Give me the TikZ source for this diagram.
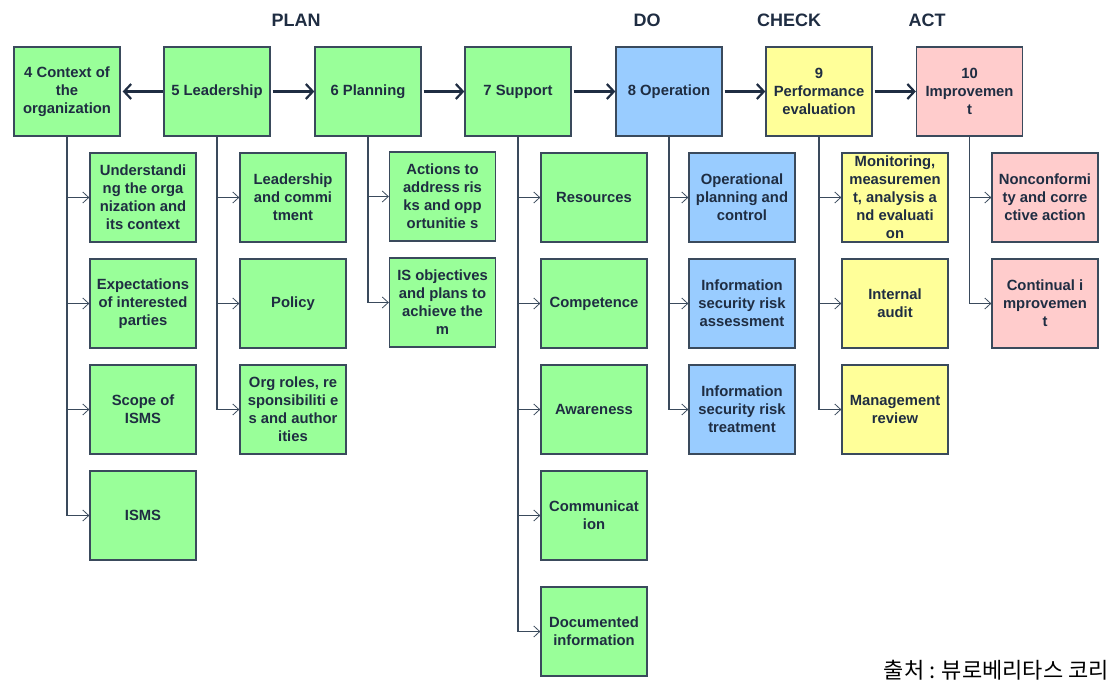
\documentclass[tikz,border=0pt]{standalone}
\usepackage{fontspec}
\setmainfont{Liberation Sans}
\newfontfamily\krfont{Noto Sans CJK KR}
\usepackage{tikz}
\usetikzlibrary{arrows.meta}

\definecolor{inkblue}{HTML}{1F2D42}
\definecolor{edgegray}{HTML}{3A4A5C}
\definecolor{planfill}{HTML}{99FF99}
\definecolor{dofill}{HTML}{99CCFF}
\definecolor{checkfill}{HTML}{FFFF99}
\definecolor{actfill}{HTML}{FFCCCC}

\begin{document}
\begin{tikzpicture}[x=1pt,y=-1pt,
  box/.style={draw=edgegray,line width=1.3pt,minimum width=106pt,minimum height=89pt,
    inner sep=0pt,align=center,text=inkblue,font=\bfseries\fontsize{14.8}{18}\selectfont},
  head/.style={text=inkblue,font=\bfseries\fontsize{18}{20}\selectfont},
  flow/.style={draw=inkblue,line width=2.2pt,-{Straight Barb[length=7pt,width=15pt,line width=2.2pt]}},
  branch/.style={draw=edgegray,line width=1.1pt,-{Straight Barb[length=6pt,width=11pt,line width=0.8pt]}}]

\useasboundingbox (0,0) rectangle (1111,685);

% phase headings
\node[head] (plan) at (296,20) {PLAN};
\node[head] (do) at (647,20) {DO};
\node[head] (check) at (789,20) {CHECK};
\node[head] (act) at (927,20) {ACT};

% main clauses
\node[box,fill=planfill] (ctx) at (67,91.5) {4 Context of\\the\\organization};
\node[box,fill=planfill] (lead) at (217,91.5) {5 Leadership};
\node[box,fill=planfill] (plng) at (368,91.5) {6 Planning};
\node[box,fill=planfill] (supp) at (518,91.5) {7 Support};
\node[box,fill=dofill] (oper) at (669,91.5) {8 Operation};
\node[box,fill=checkfill] (perf) at (819,91.5) {9\\Performance\\evaluation};
\node[box,fill=actfill] (impr) at (969.5,91.5) {10\\Improvemen\\t};

\draw[flow,{Straight Barb[length=7pt,width=15pt,line width=2.2pt]}-] ([xshift=2pt]ctx.east) -- (lead.west);
\draw[flow] ([xshift=2pt]lead.east) -- (plng.west);
\draw[flow] ([xshift=2pt]plng.east) -- (supp.west);
\draw[flow] ([xshift=2pt]supp.east) -- (oper.west);
\draw[flow] ([xshift=2pt]oper.east) -- (perf.west);
\draw[flow] ([xshift=2pt]perf.east) -- (impr.west);

% clause 4
\node[box,fill=planfill] (ctxa) at (143,197.5) {Understandi\\ng the orga\\nization and\\its context};
\node[box,fill=planfill] (ctxb) at (143,303.5) {Expectations\\of interested\\parties};
\node[box,fill=planfill] (ctxc) at (143,409.5) {Scope of\\ISMS};
\node[box,fill=planfill] (ctxd) at (143,515.5) {ISMS};
\draw[branch] (ctx.south) |- (ctxa.west);
\draw[branch] (ctx.south) |- (ctxb.west);
\draw[branch] (ctx.south) |- (ctxc.west);
\draw[branch] (ctx.south) |- (ctxd.west);

% clause 5
\node[box,fill=planfill] (leada) at (293,197.5) {Leadership\\and commi\\tment};
\node[box,fill=planfill] (leadb) at (293,303.5) {Policy};
\node[box,fill=planfill] (leadc) at (293,409.5) {Org roles, re\\sponsibiliti e\\s and author\\ities};
\draw[branch] (lead.south) |- (leada.west);
\draw[branch] (lead.south) |- (leadb.west);
\draw[branch] (lead.south) |- (leadc.west);

% clause 6
\node[box,fill=planfill] (plnga) at (442.5,196.5) {Actions to\\address ris\\ks and opp\\ortunitie s};
\node[box,fill=planfill] (plngb) at (442.5,302.5) {IS objectives\\and plans to\\achieve the\\m};
\draw[branch] (plng.south) |- (plnga.west);
\draw[branch] (plng.south) |- (plngb.west);

% clause 7
\node[box,fill=planfill] (suppa) at (594,197.5) {Resources};
\node[box,fill=planfill] (suppb) at (594,303.5) {Competence};
\node[box,fill=planfill] (suppc) at (594,409.5) {Awareness};
\node[box,fill=planfill] (suppd) at (594,515.5) {Communicat\\ion};
\node[box,fill=planfill] (suppe) at (594,631.5) {Documented\\information};
\draw[branch] (supp.south) |- (suppa.west);
\draw[branch] (supp.south) |- (suppb.west);
\draw[branch] (supp.south) |- (suppc.west);
\draw[branch] (supp.south) |- (suppd.west);
\draw[branch] (supp.south) |- (suppe.west);

% clause 8
\node[box,fill=dofill] (opera) at (742,197.5) {Operational\\planning and\\control};
\node[box,fill=dofill] (operb) at (742,303.5) {Information\\security risk\\assessment};
\node[box,fill=dofill] (operc) at (742,409.5) {Information\\security risk\\treatment};
\draw[branch] (oper.south) |- (opera.west);
\draw[branch] (oper.south) |- (operb.west);
\draw[branch] (oper.south) |- (operc.west);

% clause 9
\node[box,fill=checkfill] (perfa) at (895,197.5) {Monitoring,\\measuremen\\t, analysis a\\nd evaluati\\on};
\node[box,fill=checkfill] (perfb) at (895,303.5) {Internal\\audit};
\node[box,fill=checkfill] (perfc) at (895,409.5) {Management\\review};
\draw[branch] (perf.south) |- (perfa.west);
\draw[branch] (perf.south) |- (perfb.west);
\draw[branch] (perf.south) |- (perfc.west);

% clause 10
\node[box,fill=actfill] (impra) at (1045,197.5) {Nonconformi\\ty and corre\\ctive action};
\node[box,fill=actfill] (imprb) at (1045,303.5) {Continual i\\mprovemen\\t};
\draw[branch] (impr.south) |- (impra.west);
\draw[branch] (impr.south) |- (imprb.west);

% source
\node[anchor=base east,inner sep=0pt,font=\krfont\fontsize{22}{24}\selectfont] (src) at (1109,678) {출처 : 뷰로베리타스 코리};

\end{tikzpicture}
\end{document}
